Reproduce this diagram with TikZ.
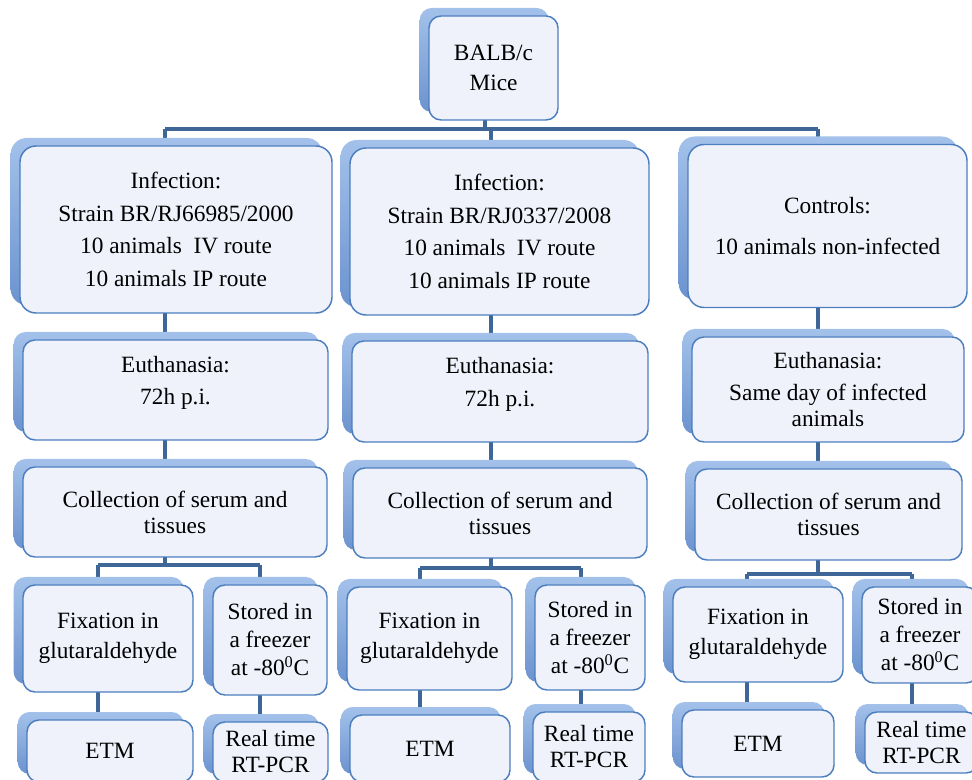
\documentclass[tikz,border=0pt]{standalone}
\usepackage{fontspec}
\setmainfont{Liberation Serif}
\usetikzlibrary{shadows,backgrounds}
\definecolor{linkblue}{HTML}{3E6797}
\definecolor{edgeblue}{HTML}{4C7EBE}
\definecolor{shadetop}{HTML}{A3C1EA}
\definecolor{shadebot}{HTML}{6C93CF}
\definecolor{boxfill}{HTML}{EFF2FB}
\tikzset{
    stepbox/.style={draw=edgeblue,line width=1.1pt,fill=boxfill,rounded corners=9pt,
        inner sep=2pt,align=center,text=black,
        font=\fontsize{17.5}{19.5}\selectfont,
        general shadow={shadow xshift=-7pt,shadow yshift=6pt,top color=shadetop,bottom color=shadebot}},
    bigbox/.style={stepbox,rounded corners=12pt},
    link/.style={draw=linkblue,line width=3pt}
}

\begin{document}
\begin{tikzpicture}[x=0.75pt,y=-0.75pt]
    \useasboundingbox (0,0) rectangle (972,780);

    \node[stepbox,minimum width=96.75pt,minimum height=78pt] (mice) at (493.5,68) {BALB/c\\[3pt]Mice};

    % groups
    \node[bigbox,minimum width=234pt,minimum height=125.25pt] (inf1) at (176,229.5)
        {Infection:\\[5pt]Strain BR/RJ66985/2000\\[5pt]10 animals\ \ IV route\\[5pt]10 animals IP route};
    \node[bigbox,minimum width=224.25pt,minimum height=125.25pt] (inf2) at (499.5,231.5)
        {Infection:\\[5pt]Strain BR/RJ0337/2008\\[5pt]10 animals\ \ IV route\\[5pt]10 animals IP route};
    \node[bigbox,minimum width=209.25pt,minimum height=122.25pt] (ctrl) at (827.5,226)
        {Controls:\\[11pt]10 animals non-infected};

    % euthanasia
    \node[stepbox,minimum width=228.75pt,minimum height=75pt] (euth1) at (175.5,390)
        {Euthanasia:\\[5pt]72h p.i.\\[-5pt]\mbox{}};
    \node[stepbox,minimum width=222pt,minimum height=75.75pt] (euth2) at (500,391.5)
        {Euthanasia:\\[5pt]72h p.i.\\[-5pt]\mbox{}};
    \node[stepbox,minimum width=204pt,minimum height=78.75pt] (euth3) at (828,389.5)
        {Euthanasia:\\[5pt]Same day of infected\\animals};

    % collection
    \node[stepbox,minimum width=228pt,minimum height=67.5pt] (coll1) at (175,512) {Collection of serum and\\tissues};
    \node[stepbox,minimum width=220.5pt,minimum height=67.5pt] (coll2) at (500,513) {Collection of serum and\\tissues};
    \node[stepbox,minimum width=200.25pt,minimum height=68.25pt] (coll3) at (828.5,514.5) {Collection of serum and\\tissues};

    % fixation and storage
    \node[stepbox,minimum width=127.5pt,minimum height=80.25pt] (fix1) at (108,638.5) {Fixation in\\[3pt]glutaraldehyde};
    \node[stepbox,minimum width=85.5pt,minimum height=82.5pt] (sto1) at (270,640)
        {Stored in\\[1.5pt]a freezer\\[1.5pt]at -80\textsuperscript{0}C};
    \node[stepbox,minimum width=123.75pt,minimum height=77.25pt] (fix2) at (429.5,638.5) {Fixation in\\[3pt]glutaraldehyde};
    \node[stepbox,minimum width=82.5pt,minimum height=78.75pt] (sto2) at (590,637.5)
        {Stored in\\[1.5pt]a freezer\\[1.5pt]at -80\textsuperscript{0}C};
    \node[stepbox,minimum width=127.5pt,minimum height=71.25pt] (fix3) at (758,634.5) {Fixation in\\[3pt]glutaraldehyde};
    \node[stepbox,minimum width=87pt,minimum height=72pt] (sto3) at (920,635)
        {Stored in\\[1.5pt]a freezer\\[1.5pt]at -80\textsuperscript{0}C};

    % analyses
    \node[stepbox,minimum width=124.5pt,minimum height=46.5pt] (etm1) at (110,751) {ETM};
    \node[stepbox,minimum width=86.25pt,minimum height=45pt] (rt1) at (270.5,752) {Real time\\RT-PCR};
    \node[stepbox,minimum width=120pt,minimum height=50.25pt] (etm2) at (430,748.5) {ETM};
    \node[stepbox,minimum width=84pt,minimum height=52.5pt] (rt2) at (589,747) {Real time\\RT-PCR};
    \node[stepbox,minimum width=114pt,minimum height=50.25pt] (etm3) at (758,743.5) {ETM};
    \node[stepbox,minimum width=84.75pt,minimum height=45.75pt] (rt3) at (921.5,742.5) {Real time\\RT-PCR};

    \begin{pgfonlayer}{background}
        \coordinate (m) at (485,129);
        \coordinate (c1) at (165,129);
        \coordinate (c2) at (491,129);
        \coordinate (c3) at (818,129);
        \coordinate (s1a) at (98,565);  \coordinate (s1b) at (260,565);
        \coordinate (s2a) at (420,568); \coordinate (s2b) at (581,568);
        \coordinate (s3a) at (747,574); \coordinate (s3b) at (912,574);

        \draw[link] (mice.center -| m) -- (m);
        \draw[link] (c1) -- (c3);
        \draw[link] (c1) -- (c1 |- s1a);
        \draw[link] (c2) -- (c2 |- s2a);
        \draw[link] (c3) -- (c3 |- s3a);

        \draw[link] (s1a) -- (s1b);
        \draw[link] (s1a) -- (s1a |- etm1.center);
        \draw[link] (s1b) -- (s1b |- rt1.center);
        \draw[link] (s2a) -- (s2b);
        \draw[link] (s2a) -- (s2a |- etm2.center);
        \draw[link] (s2b) -- (s2b |- rt2.center);
        \draw[link] (s3a) -- (s3b);
        \draw[link] (s3a) -- (s3a |- etm3.center);
        \draw[link] (s3b) -- (s3b |- rt3.center);
    \end{pgfonlayer}
\end{tikzpicture}
\end{document}
